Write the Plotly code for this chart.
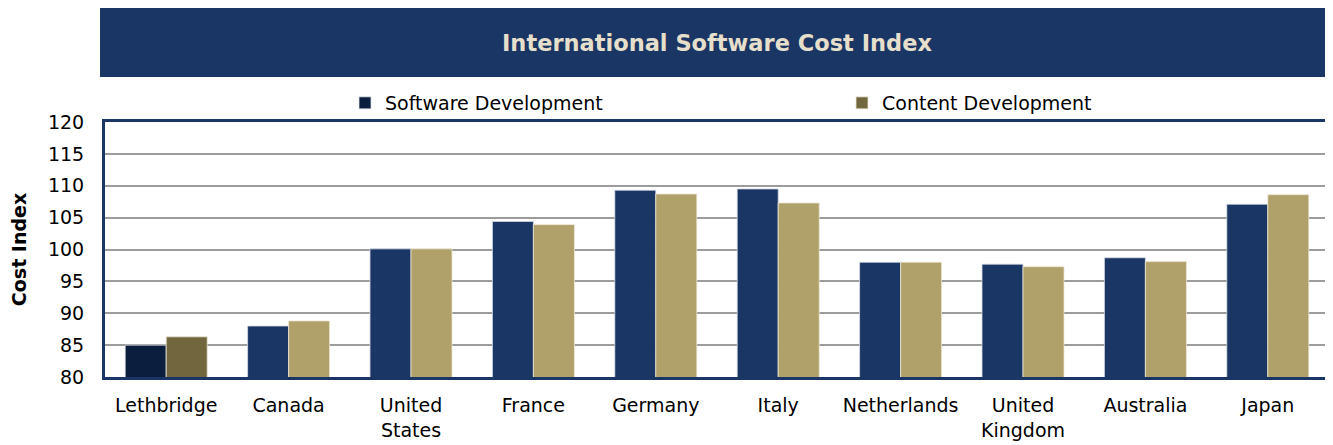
import plotly.graph_objects as go

categories = ["Lethbridge", "Canada", "United<br>States", "France", "Germany",
              "Italy", "Netherlands", "United<br>Kingdom", "Australia", "Japan"]
software_dev = [85.0, 88.0, 100.1, 104.4, 109.3, 109.5, 98.0, 97.7, 98.7, 107.1]
content_dev = [86.3, 88.8, 100.1, 103.9, 108.7, 107.3, 98.0, 97.3, 98.1, 108.6]
y_ticks = [80, 85, 90, 95, 100, 105, 110, 115, 120]

NAVY = "#1a3664"
GOLD = "#b0a06a"
NAVY_DARK = "#0c1e3e"
GOLD_DARK = "#72663e"

sd_colors = [NAVY_DARK] + [NAVY] * (len(categories) - 1)
cd_colors = [GOLD_DARK] + [GOLD] * (len(categories) - 1)

OFF = 8  # page body margin
W, H = 1333 - OFF, 445 - OFF
# target plot area in screen pixels: x 105..1329, y 122..377
ML = 105 - OFF
MT = 122 - OFF
MR = 1333 - 1329
MB = 445 - 377
PW = W - ML - MR
PH = H - MT - MB

def px_x(x):
    return (x - OFF - ML) / PW

def px_y(y):
    return (H - MB - (y - OFF)) / PH

fig = go.Figure()
fig.add_trace(go.Bar(name="Software Development", x=categories, y=software_dev,
                     marker=dict(color=sd_colors, line=dict(color="#d8dce4", width=0.8))))
fig.add_trace(go.Bar(name="Content Development", x=categories, y=content_dev,
                     marker=dict(color=cd_colors, line=dict(color="#ece6d4", width=0.8))))

font_family = "DejaVu Sans"

fig.update_layout(
    width=W, height=H,
    margin=dict(l=ML, r=MR, t=MT, b=MB, autoexpand=False),
    paper_bgcolor="white", plot_bgcolor="white",
    barmode="group", bargap=0.33, bargroupgap=0,
    font=dict(family=font_family, size=19, color="black"),
    showlegend=True,
    legend=dict(orientation="h", x=px_x(345), xanchor="left", y=px_y(103), yanchor="middle",
                entrywidth=452, entrywidthmode="pixels", font=dict(size=19, color="black"),
                itemwidth=30, bgcolor="rgba(0,0,0,0)", traceorder="normal"),
    shapes=[dict(type="rect", xref="paper", yref="paper",
                 x0=px_x(100), x1=px_x(1333), y0=px_y(77), y1=px_y(7),
                 fillcolor=NAVY, line=dict(width=0), layer="below")],
    annotations=[dict(text="<b>International Software Cost Index</b>", xref="paper", yref="paper",
                      x=px_x(716.5), y=px_y(43), xanchor="center", yanchor="middle",
                      showarrow=False, font=dict(family=font_family, size=22.5, color="#e6dfcb"))],
)

fig.update_xaxes(showline=True, mirror=True, linecolor=NAVY, linewidth=3,
                 tickfont=dict(size=19), ticks="", showgrid=False, ticklabelstandoff=9)
fig.update_yaxes(range=[80, 120], tickvals=y_ticks, showline=True, mirror=True,
                 linecolor=NAVY, linewidth=3, showgrid=True, gridcolor="#9c9c9c", gridwidth=1.5,
                 ticks="outside", ticklen=0, ticklabelstandoff=14, tickfont=dict(size=19),
                 title=dict(text="<b>Cost Index</b>", font=dict(size=19), standoff=22),
                 zeroline=False)

fig.write_html("out.html")
